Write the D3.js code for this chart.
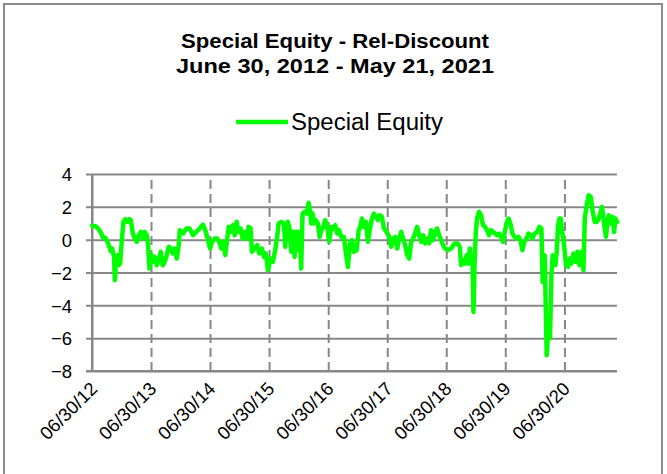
<!DOCTYPE html>
<html>
<head>
<meta charset="utf-8">
<script src="https://cdn.jsdelivr.net/npm/d3@7"></script>
<style>
  html, body { margin: 0; padding: 0; background: #fff; }
  svg { display: block; }
</style>
</head>
<body>
<svg id="chart" width="667" height="474"></svg>
<script>
// ---- data ----
const chartTitle = ["Special Equity - Rel-Discount", "June 30, 2012 - May 21, 2021"];
const seriesName = "Special Equity";
const startDate = "2012-06-30";
const endDate = "2021-05-21";
const xTickDates = ["2012-06-30","2013-06-30","2014-06-30","2015-06-30","2016-06-30","2017-06-30","2018-06-30","2019-06-30","2020-06-30"];
const xTickLabels = ["06/30/12","06/30/13","06/30/14","06/30/15","06/30/16","06/30/17","06/30/18","06/30/19","06/30/20"];
const yTicks = [4, 2, 0, -2, -4, -6, -8];

// observation times as decimal years
const obsYears = [
2012.496,2012.542,2012.598,2012.643,2012.682,2012.721,2012.755,2012.779,2012.812,2012.834,
2012.868,2012.880,2012.902,2012.924,2012.948,2012.970,2012.992,2013.026,2013.059,2013.093,
2013.127,2013.151,2013.185,2013.218,2013.252,2013.286,2013.320,2013.354,2013.388,2013.422,
2013.444,2013.466,2013.499,2013.533,2013.557,2013.591,2013.625,2013.658,2013.692,2013.726,
2013.760,2013.794,2013.828,2013.861,2013.895,2013.929,2013.963,2013.980,2014.036,2014.092,
2014.149,2014.205,2014.261,2014.318,2014.374,2014.413,2014.459,2014.493,2014.526,2014.572,
2014.616,2014.650,2014.684,2014.718,2014.751,2014.785,2014.809,2014.843,2014.877,2014.911,
2014.944,2014.978,2015.012,2015.046,2015.080,2015.114,2015.147,2015.181,2015.203,2015.249,
2015.293,2015.327,2015.372,2015.406,2015.440,2015.474,2015.520,2015.559,2015.597,2015.631,
2015.655,2015.699,2015.745,2015.767,2015.790,2015.812,2015.846,2015.868,2015.902,2015.926,
2015.948,2015.970,2015.993,2016.015,2016.037,2016.061,2016.095,2016.129,2016.163,2016.185,
2016.207,2016.230,2016.252,2016.286,2016.320,2016.349,2016.376,2016.410,2016.443,2016.477,
2016.511,2016.545,2016.579,2016.613,2016.647,2016.680,2016.714,2016.760,2016.794,2016.828,
2016.861,2016.895,2016.929,2016.975,2017.009,2017.026,2017.064,2017.098,2017.132,2017.166,
2017.200,2017.234,2017.267,2017.301,2017.335,2017.369,2017.403,2017.437,2017.482,2017.526,
2017.560,2017.594,2017.628,2017.662,2017.696,2017.729,2017.763,2017.797,2017.831,2017.865,
2017.899,2017.932,2017.966,2018.000,2018.034,2018.068,2018.102,2018.135,2018.169,2018.203,
2018.237,2018.271,2018.305,2018.339,2018.372,2018.406,2018.440,2018.474,2018.520,2018.575,
2018.633,2018.689,2018.723,2018.745,2018.778,2018.812,2018.836,2018.870,2018.892,2018.914,
2018.937,2018.954,2018.971,2018.993,2019.015,2019.049,2019.083,2019.117,2019.151,2019.184,
2019.218,2019.252,2019.286,2019.320,2019.354,2019.388,2019.421,2019.455,2019.479,2019.513,
2019.547,2019.580,2019.614,2019.648,2019.682,2019.716,2019.750,2019.783,2019.817,2019.851,
2019.885,2019.919,2019.953,2019.987,2020.037,2020.071,2020.105,2020.127,2020.161,2020.195,
2020.228,2020.250,2020.274,2020.296,2020.318,2020.342,2020.364,2020.386,2020.410,2020.432,
2020.454,2020.477,2020.499,2020.521,2020.555,2020.589,2020.613,2020.646,2020.680,2020.714,
2020.748,2020.782,2020.816,2020.838,2020.871,2020.905,2020.939,2020.973,2021.007,2021.041,
2021.074,2021.108,2021.130,2021.154,2021.176,2021.198,2021.222,2021.244,2021.266,2021.289,
2021.312,2021.334,2021.357,2021.386
];

const relDiscount = [
0.85,0.84,0.68,0.44,0.11,0.11,-0.13,-0.33,-0.70,-0.54,
-1.05,-2.47,-1.15,-0.94,-1.56,-1.45,-0.33,1.09,1.25,1.09,
1.25,1.19,0.38,0.07,-0.13,0.27,0.48,0.07,0.48,0.27,
-0.33,-1.76,-0.94,-1.35,-1.05,-1.56,-1.25,-0.74,-1.56,-1.35,
-0.94,-0.43,-0.54,-0.84,-0.54,-1.15,-0.33,0.58,0.38,0.68,
0.68,0.27,0.48,0.68,0.92,0.58,-0.03,-0.54,-0.13,0.07,
0.07,-0.13,-0.54,-0.13,-0.94,0.07,0.78,0.48,0.88,0.27,
1.09,0.48,0.68,0.07,0.48,0.07,0.78,0.68,-0.74,-0.54,
-0.33,-0.84,-0.54,-1.05,-0.84,-1.86,-1.15,-1.35,-0.64,0.17,
0.98,1.09,0.98,-0.44,0.98,1.09,0.58,-0.74,0.48,-1.05,
0.48,0.48,-0.64,0.48,-1.76,1.59,1.70,1.59,2.24,1.80,
0.98,1.59,0.98,1.19,0.98,0.17,0.58,0.78,1.19,0.78,
-0.13,0.78,0.68,0.88,0.37,0.58,0.17,0.17,-0.84,-1.66,
-0.23,-0.03,-0.74,-0.64,0.58,0.68,1.29,0.78,1.09,-0.13,
0.68,1.29,1.59,1.39,1.19,1.49,1.39,0.68,0.48,0.17,
-0.43,0.07,0.17,-0.54,0.07,0.48,0.07,-0.33,-0.94,-1.15,
-0.13,0.07,0.38,0.78,0.27,-0.13,0.27,-0.23,0.07,-0.23,
0.58,-0.03,0.48,0.68,0.27,-0.03,-0.33,-0.54,-0.64,-0.54,
-0.24,-0.24,-0.44,-1.55,-1.25,-1.46,-0.95,-1.46,-0.54,-1.25,
-1.05,-4.40,-1.66,0.40,1.29,1.70,1.49,0.88,0.78,0.58,
0.27,0.58,0.48,0.37,0.27,0.37,0.17,-0.14,0.37,0.98,
1.29,0.98,0.37,0.17,0.07,0.17,-0.04,-0.64,-0.14,0.07,
0.37,0.27,0.07,0.37,0.47,0.78,0.68,-2.57,-0.95,-7.04,
-4.81,-6.00,-2.16,-0.95,-1.15,-1.55,-0.74,0.88,1.29,1.29,
0.47,0.07,-0.74,-1.55,-1.66,-1.15,-1.46,-0.84,-1.35,-0.74,
-1.55,-0.74,-1.86,1.29,2.10,2.71,2.61,1.69,1.08,1.08,
1.29,1.69,2.00,1.29,0.68,0.17,1.08,1.49,1.29,0.98,
1.39,0.47,1.29,1.08
];

// ---- drawing ----
const parse = d3.timeParse("%Y-%m-%d");
function decToDate(y) {
  const yr = Math.floor(y);
  const a = new Date(yr, 0, 1), b = new Date(yr + 1, 0, 1);
  return new Date(+a + (y - yr) * (b - a));
}
const data = obsYears.map((t, i) => ({ date: decToDate(t), value: relDiscount[i] }));

const svg = d3.select("#chart");
const W = 667, H = 474;
const plot = { left: 92, right: 617, top: 174, bottom: 371 };
const gridColor = "#878787";
const lineColor = "#00ff00";
const fontFamily = "'Liberation Sans', Arial, sans-serif";

svg.append("rect").attr("x", 0).attr("y", 0).attr("width", W).attr("height", H).attr("fill", "#fff");
svg.append("rect").attr("x", 4).attr("y", 4).attr("width", 658).attr("height", 490)
  .attr("fill", "none").attr("stroke", "#8c8c8c").attr("stroke-width", 2);

const x = d3.scaleTime().domain([parse(startDate), parse(endDate)]).range([plot.left, plot.right]);
const y = d3.scaleLinear().domain([-8, 4]).range([plot.bottom, plot.top]);

// horizontal gridlines + y axis
const yAxis = d3.axisLeft(y).tickValues(yTicks).tickSize(-(plot.right - plot.left + 6)).tickFormat(d3.format("d"));
const gy = svg.append("g").attr("transform", `translate(${plot.left - 6},0)`).call(yAxis);
gy.select(".domain").remove();
gy.selectAll(".tick line").attr("stroke", gridColor).attr("stroke-width", 2);
gy.selectAll(".tick text")
  .attr("x", -14).attr("dy", "0.36em")
  .attr("fill", "#000").style("font-family", fontFamily).style("font-size", "18.5px");

// vertical dashed gridlines + x axis labels
const xAxis = d3.axisBottom(x).tickValues(xTickDates.map(parse))
  .tickFormat((d, i) => xTickLabels[i]).tickSize(-(plot.bottom - plot.top));
const gx = svg.append("g").attr("transform", `translate(0,${plot.bottom})`).call(xAxis);
gx.select(".domain").remove();
gx.selectAll(".tick line")
  .attr("stroke", gridColor).attr("stroke-width", 2)
  .attr("stroke-dasharray", (d, i) => i === 0 ? null : "9,5");
gx.selectAll(".tick text")
  .attr("fill", "#000").style("font-family", fontFamily).style("font-size", "18.5px")
  .attr("text-anchor", "end").attr("dy", null).attr("y", 0)
  .attr("transform", "translate(6,19) rotate(-45)");

// axis lines
svg.append("line").attr("x1", plot.left).attr("x2", plot.left).attr("y1", plot.top).attr("y2", plot.bottom)
  .attr("stroke", gridColor).attr("stroke-width", 2);
svg.append("line").attr("x1", plot.left - 6).attr("x2", plot.right).attr("y1", plot.bottom).attr("y2", plot.bottom)
  .attr("stroke", gridColor).attr("stroke-width", 2);

// series line
const line = d3.line().x(d => x(d.date)).y(d => y(d.value));
svg.append("path").datum(data).attr("d", line)
  .attr("fill", "none").attr("stroke", lineColor).attr("stroke-width", 4.5)
  .attr("stroke-linejoin", "round").attr("stroke-linecap", "round");

// title
const titleWidths = [308, 318];
svg.selectAll("text.title").data(chartTitle).enter().append("text")
  .attr("class", "title")
  .attr("x", 335).attr("y", (d, i) => 48 + i * 25)
  .attr("text-anchor", "middle")
  .attr("textLength", (d, i) => titleWidths[i]).attr("lengthAdjust", "spacingAndGlyphs")
  .style("font-family", fontFamily).style("font-weight", "bold").style("font-size", "20px")
  .text(d => d);

// legend
svg.append("line").attr("x1", 236).attr("x2", 288).attr("y1", 122).attr("y2", 122)
  .attr("stroke", lineColor).attr("stroke-width", 4.5);
svg.append("text").attr("x", 291).attr("y", 130)
  .attr("textLength", 152).attr("lengthAdjust", "spacingAndGlyphs")
  .style("font-family", fontFamily).style("font-size", "23px").text(seriesName);
</script>
</body>
</html>
